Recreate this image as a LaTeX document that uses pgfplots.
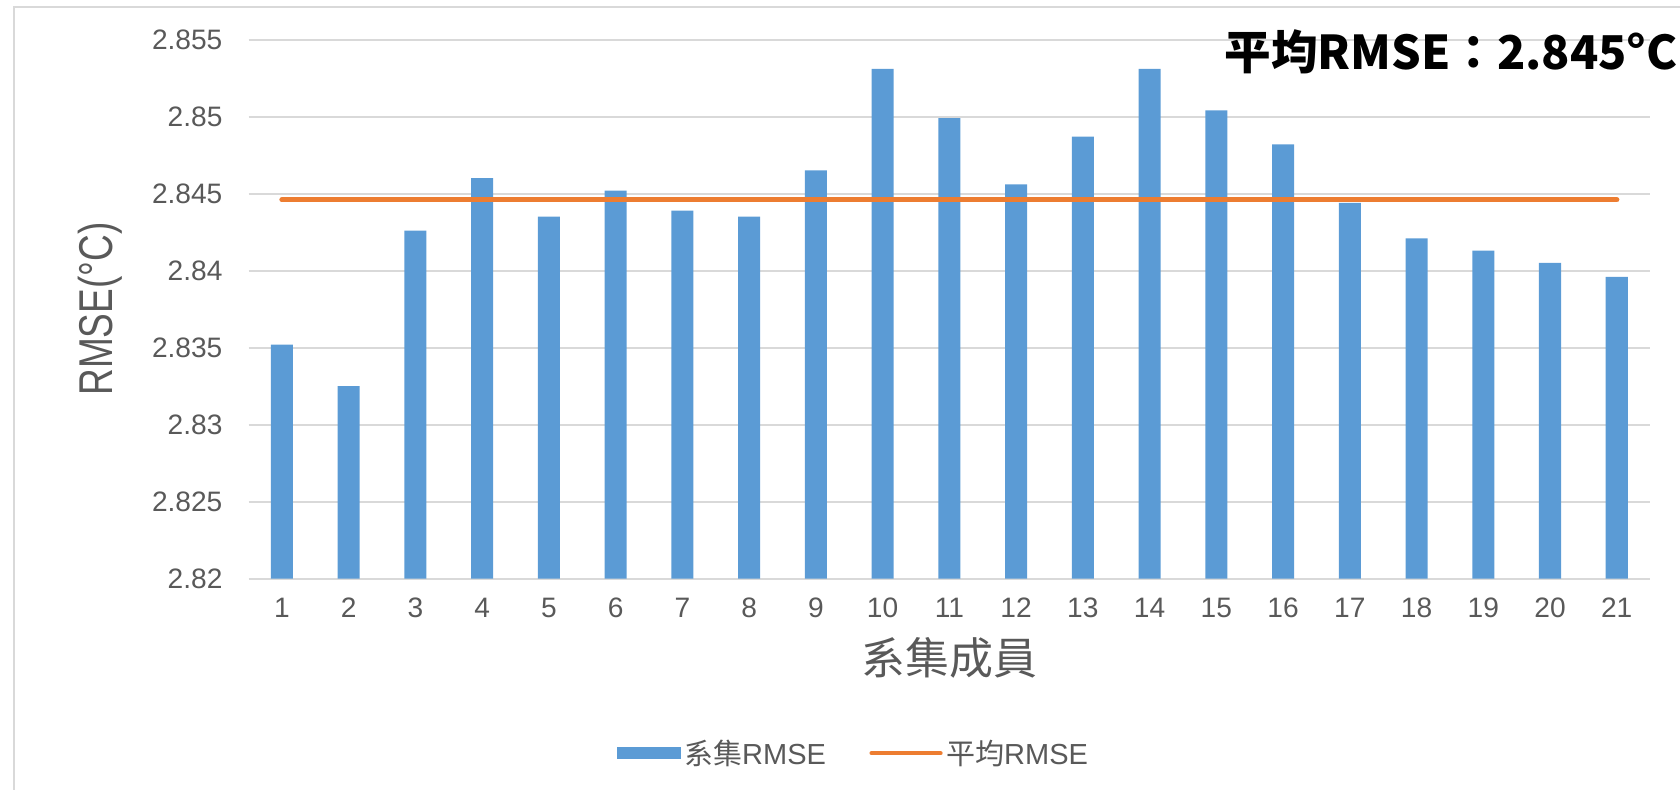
\documentclass[border=0pt]{standalone}
\usepackage{pgfplots}
\pgfplotsset{compat=1.18}
\usepackage{fontspec}
\setmainfont{Liberation Sans}
\newfontfamily\cjk{Noto Sans CJK TC}
\newfontfamily\condsans{Liberation Sans}[FakeStretch=0.78]

\definecolor{barblue}{HTML}{5B9BD5}
\definecolor{meanorange}{HTML}{ED7D31}
\definecolor{gridgray}{HTML}{D9D9D9}
\definecolor{labelgray}{HTML}{595959}

% RMSE of each ensemble member
\pgfplotstableread{
member rmse
1  2.8352
2  2.8325
3  2.8426
4  2.8460
5  2.8435
6  2.8452
7  2.8439
8  2.8435
9  2.8465
10 2.8531
11 2.8499
12 2.8456
13 2.8487
14 2.8531
15 2.8504
16 2.8482
17 2.8444
18 2.8421
19 2.8413
20 2.8405
21 2.8396
}\membertable

\begin{document}
\begin{tikzpicture}
\useasboundingbox (0,0) rectangle (336mm,158mm);
% outer chart frame
\draw[gridgray, line width=0.4mm] (2.8mm,0) -- (2.8mm,156.5mm) -- (336mm,156.5mm);

\begin{axis}[
  at={(49.72mm,42.28mm)}, anchor=south west,
  scale only axis,
  width=280.3mm, height=107.8mm,
  xmin=0.5, xmax=21.5,
  ymin=2.82, ymax=2.855,
  xtick={1,2,3,4,5,6,7,8,9,10,11,12,13,14,15,16,17,18,19,20,21},
  xticklabels={1,2,3,4,5,6,7,8,9,10,11,12,13,14,15,16,17,18,19,20,21},
  ytick={2.82,2.825,2.83,2.835,2.84,2.845,2.85,2.855},
  yticklabels={2.82,2.825,2.83,2.835,2.84,2.845,2.85,2.855},
  ymajorgrids,
  grid style={gridgray, line width=0.4mm},
  axis line style={draw=none},
  major tick length=0pt,
  tick label style={labelgray, font=\fontsize{16}{16}\selectfont},
  xticklabel style={yshift=-2.6mm},
  yticklabel style={xshift=-4mm},
  xlabel={\cjk 系集成員},
  xlabel style={labelgray, font=\fontsize{25}{25}\selectfont, yshift=-1.6mm},
  ylabel={RMSE(°C)},
  ylabel style={labelgray, font=\condsans\fontsize{27}{27}\selectfont, yshift=3.6mm},
  legend columns=2,
  legend style={at={(0.432,-0.324)}, anchor=center, draw=none,
    font=\fontsize{16.5}{16.5}\selectfont, text=labelgray,
    /tikz/every even column/.append style={column sep=8mm}},
  clip=false,
]
\addplot[ybar, bar width=0.33, fill=barblue, draw=none,
  legend image code/.code={\fill[barblue] (0mm,-1.15mm) rectangle (12.8mm,1.15mm);}]
  table[x=member, y=rmse] {\membertable};
\addlegendentry{{\cjk 系集}RMSE}
\addplot[meanorange, line width=3pt, line cap=round,
  legend image code/.code={\draw[meanorange, line width=2.4pt, line cap=round] (0mm,0mm) -- (13.8mm,0mm);}]
  coordinates {(1,2.8446) (21,2.8446)};
\addlegendentry{{\cjk 平均}RMSE}
\end{axis}

\node[anchor=east, font=\cjk\bfseries\fontsize{26.5}{26.5}\selectfont, text=black, inner sep=0pt]
  at (335.6mm,147.6mm) {平均RMSE：2.845°C};
\end{tikzpicture}
\end{document}
